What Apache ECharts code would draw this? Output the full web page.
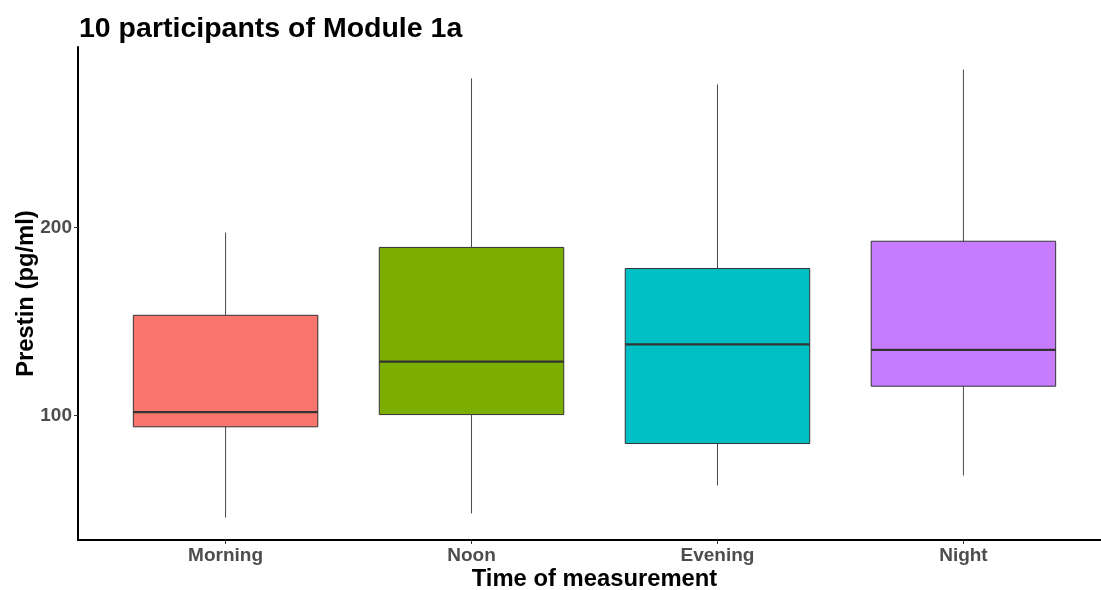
<!DOCTYPE html>
<html>
<head>
<meta charset="utf-8">
<script src="https://cdn.jsdelivr.net/npm/echarts@6/dist/echarts.min.js"></script>
<style>html,body{margin:0;padding:0;background:#fff}#c{width:1101px;height:590px}</style>
</head>
<body>
<div id="c"></div>
<script>
var categories = ['Morning', 'Noon', 'Evening', 'Night'];
var whiskerLow  = [45.7, 47.9, 62.8, 68.1];
var q1          = [94.0, 100.5, 85.1, 115.6];
var medians     = [101.8, 128.7, 137.8, 134.9];
var q3          = [153.3, 189.4, 178.2, 192.7];
var whiskerHigh = [197.3, 279.3, 276.1, 284.0];
var fills = ['#F8766D', '#7CAE00', '#00BFC4', '#C77CFF'];
var yTicks = [100, 200];

var data = categories.map(function (c, i) {
  return [i, whiskerLow[i], q1[i], medians[i], q3[i], whiskerHigh[i]];
});
var FONT = '"Liberation Sans", Arial, sans-serif';
var chart = echarts.init(document.getElementById('c'), null, {renderer: 'canvas'});
chart.setOption({
  animation: false,
  backgroundColor: '#fff',
  title: {
    text: '10 participants of Module 1a', left: 74, top: 10,
    textStyle: {fontFamily: FONT, fontSize: 28.5, fontWeight: 'bold', color: '#000'}
  },
  grid: {left: 78, right: -10, top: 47, bottom: 50, containLabel: false, outerBoundsMode: 'none'},
  xAxis: {
    type: 'value', min: -0.6, max: 3.6,
    name: 'Time of measurement', nameLocation: 'middle', nameGap: 27, nameMoveOverlap: false,
    nameTextStyle: {fontFamily: FONT, fontSize: 23.8, fontWeight: 'bold', color: '#000'},
    splitLine: {show: false},
    axisLine: {show: true, onZero: false, lineStyle: {color: '#000', width: 2}},
    axisTick: {show: true, customValues: [0, 1, 2, 3], length: 4, lineStyle: {color: '#333', width: 1}},
    axisLabel: {
      customValues: [0, 1, 2, 3], margin: 6,
      formatter: function (v) { return categories[Math.round(v)]; },
      fontFamily: FONT, fontSize: 19, fontWeight: 'bold', color: '#4D4D4D'
    }
  },
  yAxis: {
    type: 'value', min: 33.8, max: 296.0,
    name: 'Prestin (pg/ml)', nameLocation: 'middle', nameGap: 40, nameMoveOverlap: false,
    nameTextStyle: {fontFamily: FONT, fontSize: 23.8, fontWeight: 'bold', color: '#000'},
    splitLine: {show: false},
    axisLine: {show: true, onZero: false, lineStyle: {color: '#000', width: 2}},
    axisTick: {show: true, customValues: yTicks, length: 4, lineStyle: {color: '#333', width: 1}},
    axisLabel: {
      customValues: yTicks, margin: 6,
      fontFamily: FONT, fontSize: 19, fontWeight: 'bold', color: '#4D4D4D'
    }
  },
  series: [{
    type: 'custom',
    clip: false,
    data: data,
    encode: {x: 0, y: [1, 2, 3, 4, 5]},
    renderItem: function (params, api) {
      var i = api.value(0);
      var lo = api.coord([i, api.value(1)]);
      var b1 = api.coord([i, api.value(2)]);
      var md = api.coord([i, api.value(3)]);
      var b3 = api.coord([i, api.value(4)]);
      var hi = api.coord([i, api.value(5)]);
      var l = api.coord([i - 0.375, api.value(3)])[0];
      var r = api.coord([i + 0.375, api.value(3)])[0];
      var cx = lo[0];
      var lineSt = {stroke: '#4a4a4a', lineWidth: 1};
      return {
        type: 'group',
        children: [
          {type: 'line', shape: {x1: cx, y1: lo[1], x2: cx, y2: b1[1]}, style: lineSt},
          {type: 'line', shape: {x1: cx, y1: b3[1], x2: cx, y2: hi[1]}, style: lineSt},
          {type: 'rect', shape: {x: l, y: b3[1], width: r - l, height: b1[1] - b3[1]},
           style: {fill: fills[i], stroke: '#333', lineWidth: 1}},
          {type: 'line', shape: {x1: l, y1: md[1], x2: r, y2: md[1]}, style: {stroke: '#333', lineWidth: 2.2}}
        ]
      };
    }
  }]
});
</script>
</body>
</html>
